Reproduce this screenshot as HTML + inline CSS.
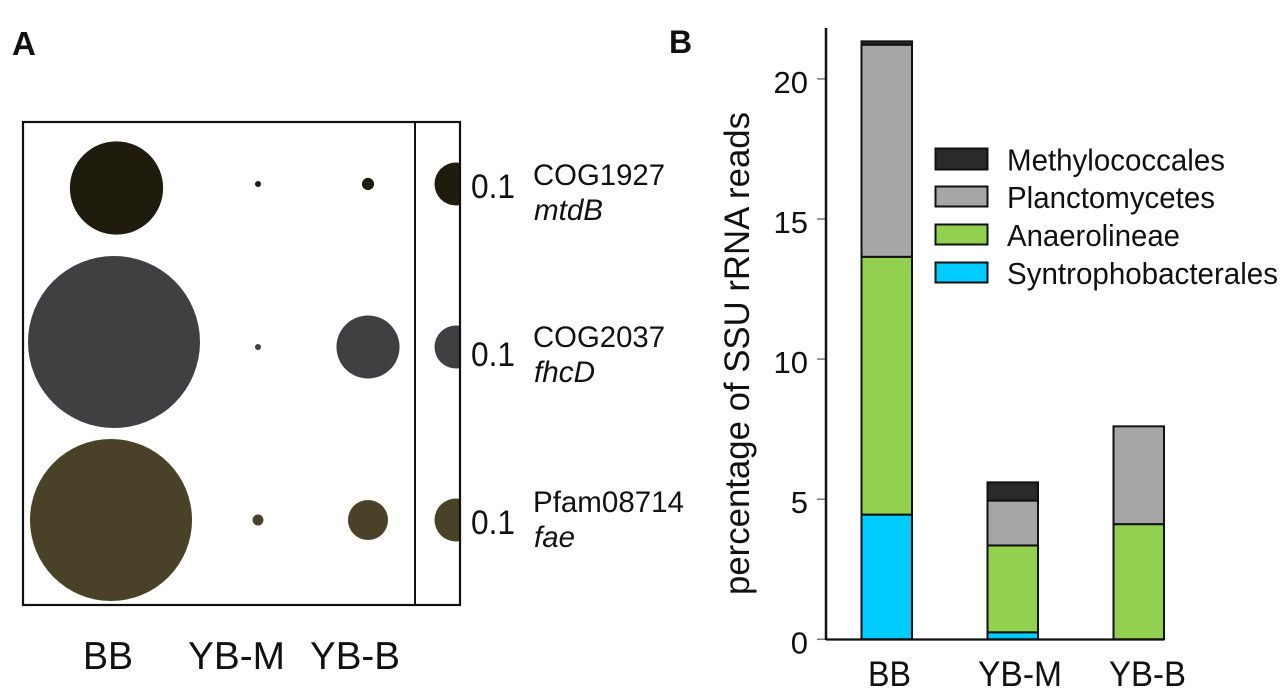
<!DOCTYPE html>
<html lang="en">
<head>
<meta charset="utf-8">
<title>Bubble plot and stacked bars</title>
<style>
html,body{margin:0;padding:0;background:#fff;width:1287px;height:700px;overflow:hidden}
svg{display:block;font-family:"Liberation Sans",sans-serif;fill:#111}
</style>
</head>
<body>
<svg id="fig" xmlns="http://www.w3.org/2000/svg" width="1287" height="700" viewBox="0 0 1287 700">
  <defs><clipPath id="frame-clip"><rect x="23" y="122" width="437" height="483"/></clipPath></defs>
  <text x="12" y="55" font-size="33" font-weight="bold">A</text>
  <text x="669" y="53" font-size="32" font-weight="bold">B</text>

  <g id="bubbles" clip-path="url(#frame-clip)"></g>
  <rect x="23" y="122" width="437" height="483" fill="none" stroke="#111" stroke-width="2.2"/>
  <line x1="415" y1="122" x2="415" y2="605" stroke="#111" stroke-width="2"/>

  <text x="471" y="198" font-size="34" textLength="44" lengthAdjust="spacingAndGlyphs">0.1</text>
  <text x="471" y="366" font-size="34" textLength="44" lengthAdjust="spacingAndGlyphs">0.1</text>
  <text x="471" y="534" font-size="34" textLength="44" lengthAdjust="spacingAndGlyphs">0.1</text>

  <text x="533" y="185" font-size="30" textLength="132" lengthAdjust="spacingAndGlyphs">COG1927</text>
  <text x="534" y="220" font-size="30" font-style="italic" textLength="69" lengthAdjust="spacingAndGlyphs">mtdB</text>
  <text x="533" y="347" font-size="30" textLength="132" lengthAdjust="spacingAndGlyphs">COG2037</text>
  <text x="534" y="382" font-size="30" font-style="italic" textLength="61" lengthAdjust="spacingAndGlyphs">fhcD</text>
  <text x="533" y="512" font-size="30" textLength="151" lengthAdjust="spacingAndGlyphs">Pfam08714</text>
  <text x="534" y="547" font-size="30" font-style="italic" textLength="41" lengthAdjust="spacingAndGlyphs">fae</text>

  <text x="83" y="669" font-size="39" textLength="50" lengthAdjust="spacingAndGlyphs">BB</text>
  <text x="188" y="669" font-size="39" textLength="97" lengthAdjust="spacingAndGlyphs">YB-M</text>
  <text x="310" y="669" font-size="39" textLength="90" lengthAdjust="spacingAndGlyphs">YB-B</text>

  <g id="bars"></g>
  <g id="y-ticks"></g>
  <line x1="826" y1="28" x2="826" y2="640" stroke="#111" stroke-width="2.5"/>
  <line x1="826" y1="639.500" x2="1164" y2="639.500" stroke="#111" stroke-width="2.2"/>
  <text transform="translate(749,595) rotate(-90)" font-size="35" textLength="483" lengthAdjust="spacingAndGlyphs">percentage of SSU rRNA reads</text>

  <text x="868" y="686" font-size="35" textLength="43" lengthAdjust="spacingAndGlyphs">BB</text>
  <text x="978" y="686" font-size="35" textLength="84" lengthAdjust="spacingAndGlyphs">YB-M</text>
  <text x="1109" y="686" font-size="35" textLength="77" lengthAdjust="spacingAndGlyphs">YB-B</text>

  <g>
    <rect x="935.500" y="148.500" width="52" height="21" fill="#2a2a2a" stroke="#111" stroke-width="2"/>
    <text x="1007" y="170.500" font-size="31" textLength="218" lengthAdjust="spacingAndGlyphs">Methylococcales</text>
    <rect x="935.500" y="186.500" width="52" height="20" fill="#a6a6a6" stroke="#111" stroke-width="2"/>
    <text x="1007" y="208" font-size="31" textLength="208" lengthAdjust="spacingAndGlyphs">Planctomycetes</text>
    <rect x="935.500" y="224.500" width="52" height="20" fill="#92d14f" stroke="#111" stroke-width="2"/>
    <text x="1007" y="246" font-size="31" textLength="173" lengthAdjust="spacingAndGlyphs">Anaerolineae</text>
    <rect x="935.500" y="262.500" width="52" height="20" fill="#00ccff" stroke="#111" stroke-width="2"/>
    <text x="1007" y="284" font-size="31" textLength="271" lengthAdjust="spacingAndGlyphs">Syntrophobacterales</text>
  </g>
</svg>
<script>
// Bubble chart data (bubble area, in the units of the 0.1 reference bubble)
const bubbleColumns = ['BB', 'YB-M', 'YB-B', 'reference'];
const bubbleRows = ['mtdB', 'fhcD', 'fae'];
const mtdBValues = [0.47, 0.002, 0.008, 0.1];
const fhcDValues = [1.6, 0.002, 0.215, 0.1];
const faeValues = [1.42, 0.0065, 0.087, 0.1];

// Stacked bar data (percentage of SSU rRNA reads)
const barCategories = ['BB', 'YB-M', 'YB-B'];
const syntrophobacterales = [4.45, 0.25, 0];
const anaerolineae = [9.2, 3.1, 4.11];
const planctomycetes = [7.57, 1.6, 3.49];
const methylococcales = [0.12, 0.65, 0];
const yTicks = [0, 5, 10, 15, 20];

const NS = 'http://www.w3.org/2000/svg';
const bubbleValues = [mtdBValues, fhcDValues, faeValues];
const bubbleColors = ['#1f1b0d', '#404042', '#4a4228'];

// The first column is hand-placed in the figure, so it sits slightly off the grid.
function bubbleX(c, r) {
  const base = [114, 258, 368, 456][c];
  return c === 0 ? base + [2.5, 0, -3][r] : base;
}
function bubbleY(c, r) {
  const base = [184, 347, 520][r];
  return c === 0 ? base + [4, -5, 0][r] : base;
}
function bubbleR(v) { return 68 * Math.sqrt(v); }
function yScale(v) { return 639.3 - 28.02 * v; }
function barX(i) { return 861.5 + 126 * i; }

const bubbleGroup = document.getElementById('bubbles');
bubbleRows.forEach(function (row, r) {
  bubbleColumns.forEach(function (col, c) {
    const e = document.createElementNS(NS, 'circle');
    
    
    e.setAttribute('cx', bubbleX(c, r));
    e.setAttribute('cy', bubbleY(c, r));
    e.setAttribute('r', bubbleR(bubbleValues[r][c]));
    e.setAttribute('fill', bubbleColors[r]);
    bubbleGroup.appendChild(e);
  });
});

const stackSeries = [
  { name: 'syntrophobacterales', values: syntrophobacterales, color: '#00ccff' },
  { name: 'anaerolineae', values: anaerolineae, color: '#92d14f' },
  { name: 'planctomycetes', values: planctomycetes, color: '#a6a6a6' },
  { name: 'methylococcales', values: methylococcales, color: '#2a2a2a' }
];
const barGroup = document.getElementById('bars');
barCategories.forEach(function (cat, i) {
  let base = 0;
  stackSeries.forEach(function (s) {
    const v = s.values[i];
    if (v <= 0) { return; }
    const rect = document.createElementNS(NS, 'rect');
    
    
    rect.setAttribute('x', barX(i));
    rect.setAttribute('y', yScale(base + v));
    rect.setAttribute('width', 50.5);
    rect.setAttribute('height', yScale(base) - yScale(base + v));
    rect.setAttribute('fill', s.color);
    rect.setAttribute('stroke', '#111');
    rect.setAttribute('stroke-width', 2);
    barGroup.appendChild(rect);
    base += v;
  });
});

const tickGroup = document.getElementById('y-ticks');
yTicks.forEach(function (t) {
  const line = document.createElementNS(NS, 'line');
  
  
  line.setAttribute('x1', 817);
  line.setAttribute('x2', 826);
  line.setAttribute('y1', yScale(t));
  line.setAttribute('y2', yScale(t));
  line.setAttribute('stroke', '#777');
  line.setAttribute('stroke-width', 1.5);
  tickGroup.appendChild(line);
  const label = document.createElementNS(NS, 'text');
  
  
  label.setAttribute('x', 808);
  label.setAttribute('y', yScale(t) + 14);
  label.setAttribute('font-size', 31);
  label.setAttribute('text-anchor', 'end');
  label.textContent = t;
  tickGroup.appendChild(label);
});
</script>
</body>
</html>
